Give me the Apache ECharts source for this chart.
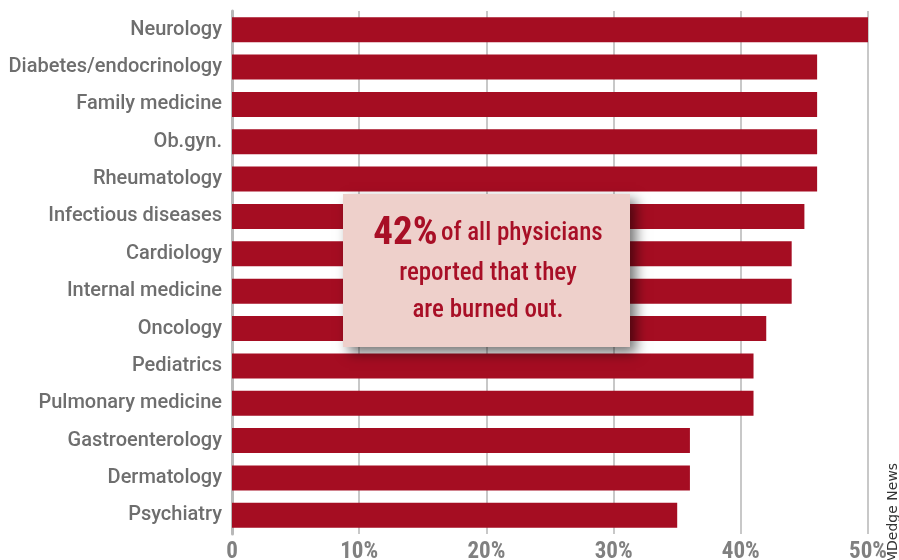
<!DOCTYPE html>
<html><head><meta charset="utf-8">
<script src="https://cdn.jsdelivr.net/npm/echarts@6/dist/echarts.min.js"></script>
<style>html,body{margin:0;padding:0;background:#fff}#c{width:899px;height:560px}</style>
</head><body><div id="c"></div>
<script>
const categories = ["Neurology","Diabetes/endocrinology","Family medicine","Ob.gyn.","Rheumatology","Infectious diseases","Cardiology","Internal medicine","Oncology","Pediatrics","Pulmonary medicine","Gastroenterology","Dermatology","Psychiatry"];
const values = [50,46,46,46,46,45,44,44,42,41,41,36,36,35];
const tickLabels = {0:"0",10:"10%",20:"20%",30:"30%",40:"40%",50:"50%"};
const cond = '"Roboto Condensed","DejaVu Sans Condensed",sans-serif';
const reg = 'Roboto,"DejaVu Sans",sans-serif';
const chart = echarts.init(document.getElementById('c'));
chart.setOption({
  animation:false,
  grid:{left:232,right:31,top:11,bottom:26,containLabel:false,outerBoundsMode:'none'},
  xAxis:{type:'value',min:0,max:50,interval:10,
    axisLine:{show:false},axisTick:{show:false},
    splitLine:{show:true,lineStyle:{color:'#c8c8c8',width:2}},
    axisLabel:{formatter:v=>tickLabels[v],color:'#808080',fontSize:23,fontWeight:'bold',fontFamily:cond,margin:7,
      align:'center'}},
  yAxis:{type:'category',data:categories,inverse:true,
    axisLine:{show:true,lineStyle:{color:'#b8b8b8',width:3}},axisTick:{show:false},
    axisLabel:{color:'#6e6e6e',fontSize:20,fontWeight:500,fontFamily:reg,margin:10,padding:[5,0,0,0]}},
  series:[{type:'bar',data:values,barWidth:25,itemStyle:{color:'#a50d22'},silent:true}],
  graphic:[
    {type:'rect',left:343,top:194,z:100,shape:{width:287,height:153},
      style:{fill:'#eed0cb',shadowBlur:12,shadowColor:'rgba(0,0,0,0.55)',shadowOffsetX:6,shadowOffsetY:6}},
    {type:'text',z:101,x:488,y:234,style:{text:'{b|42%} {n|of all physicians}',rich:{
      b:{fontSize:39,fontWeight:'bold',fill:'#a80f26',fontFamily:cond},
      n:{fontSize:25,fontWeight:500,fill:'#a80f26',fontFamily:cond}},align:'center',verticalAlign:'middle'}},
    {type:'text',z:101,x:488,y:274,style:{text:'reported that they',fontSize:25,fontWeight:500,fill:'#a80f26',fontFamily:cond,align:'center',verticalAlign:'middle'}},
    {type:'text',z:101,x:488,y:311,style:{text:'are burned out.',fontSize:25,fontWeight:500,fill:'#a80f26',fontFamily:cond,align:'center',verticalAlign:'middle'}},
    {type:'text',z:101,x:886,y:563,rotation:Math.PI/2,style:{text:'MDedge News',fontSize:14,fill:'#333',fontFamily:'"DejaVu Sans",sans-serif',align:'left',verticalAlign:'top'}}
  ]
});
</script></body></html>
